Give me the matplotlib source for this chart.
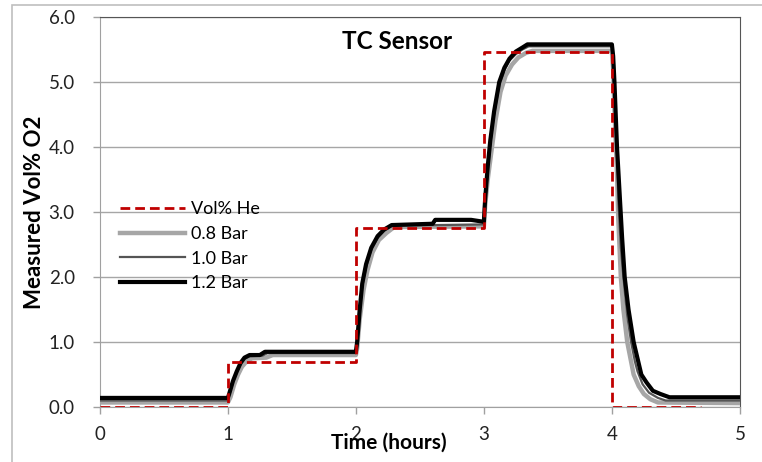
import matplotlib
matplotlib.use("Agg")
import matplotlib.pyplot as plt
from matplotlib.patches import Rectangle

plt.rcParams["font.family"] = ["Lato", "DejaVu Sans"]

# Vol% He set point (hours, vol%)
he_t = [0.0, 1.0, 1.0, 2.0, 2.0, 3.0, 3.0, 4.0, 4.0, 4.7]
he_v = [0.0, 0.0, 0.69, 0.69, 2.75, 2.75, 5.47, 5.47, 0.0, 0.0]

# 0.8 Bar
b08_t = [0.0, 1.0, 1.02, 1.05, 1.08, 1.11, 1.15, 1.19, 1.3, 1.35, 2.0,
         2.01, 2.03, 2.06, 2.09, 2.13, 2.18, 2.24, 2.30, 3.0,
         3.01, 3.03, 3.06, 3.09, 3.13, 3.17, 3.22, 3.27, 3.33, 3.38, 4.0,
         4.01, 4.02, 4.04, 4.05, 4.07, 4.09, 4.12, 4.15, 4.17, 4.21, 4.25, 4.30, 4.36, 5.0]
b08_v = [0.07, 0.07, 0.15, 0.35, 0.5, 0.62, 0.71, 0.75, 0.76, 0.80, 0.80,
         0.9, 1.35, 1.8, 2.1, 2.38, 2.57, 2.68, 2.77, 2.78,
         3.1, 3.5, 3.95, 4.4, 4.85, 5.1, 5.27, 5.38, 5.45, 5.48, 5.48,
         5.2, 4.6, 3.6, 2.9, 2.0, 1.5, 1.0, 0.7, 0.5, 0.32, 0.2, 0.12, 0.07, 0.06]

# 1.0 Bar
b10_t = [0.0, 1.0, 1.01, 1.04, 1.07, 1.10, 1.13, 1.17, 1.27, 1.31, 2.0,
         2.01, 2.03, 2.05, 2.08, 2.12, 2.17, 2.22, 2.28, 3.0,
         3.01, 3.03, 3.05, 3.08, 3.12, 3.16, 3.20, 3.25, 3.30, 3.35, 4.0,
         4.01, 4.02, 4.04, 4.05, 4.07, 4.09, 4.12, 4.15, 4.18, 4.20, 4.24, 4.29, 4.36, 4.42, 5.0]
b10_v = [0.10, 0.10, 0.18, 0.38, 0.53, 0.66, 0.74, 0.78, 0.79, 0.83, 0.83,
         0.95, 1.45, 1.85, 2.15, 2.42, 2.6, 2.71, 2.79, 2.81,
         3.15, 3.6, 4.05, 4.5, 4.95, 5.18, 5.33, 5.43, 5.5, 5.55, 5.55,
         5.35, 4.9, 3.9, 3.2, 2.45, 2.0, 1.4, 1.0, 0.7, 0.55, 0.35, 0.22, 0.14, 0.10, 0.10]

# 1.2 Bar
b12_t = [0.0, 1.0, 1.01, 1.04, 1.07, 1.10, 1.13, 1.17, 1.25, 1.29, 2.0,
         2.01, 2.03, 2.05, 2.08, 2.12, 2.17, 2.22, 2.28, 2.6, 2.62, 2.9, 3.0,
         3.01, 3.03, 3.05, 3.08, 3.12, 3.16, 3.20, 3.25, 3.30, 3.34, 4.0,
         4.01, 4.02, 4.04, 4.06, 4.08, 4.10, 4.13, 4.17, 4.20, 4.23, 4.27, 4.32, 4.38, 4.45, 5.0]
b12_v = [0.14, 0.14, 0.2, 0.4, 0.55, 0.68, 0.76, 0.80, 0.80, 0.85, 0.85,
         1.0, 1.5, 1.9, 2.2, 2.45, 2.63, 2.73, 2.8, 2.82, 2.88, 2.88, 2.85,
         3.2, 3.7, 4.1, 4.55, 5.0, 5.22, 5.36, 5.47, 5.53, 5.58, 5.58,
         5.4, 5.0, 4.0, 3.3, 2.6, 2.0, 1.5, 1.0, 0.75, 0.5, 0.38, 0.25, 0.2, 0.15, 0.15]

fig = plt.figure(figsize=(7.62, 4.62), dpi=100)
ax = fig.add_axes([0.131, 0.119, 0.840, 0.844])

fig.patches.append(Rectangle((0.016, -0.1), 1.1, 1.09, transform=fig.transFigure,
                             fill=False, edgecolor="#BFBFBF", lw=1.2))

ax.plot(he_t, he_v, c="#C00000", ls=(0, (3.5, 1.8)), lw=2, label="Vol% He", zorder=5)
ax.plot(b08_t, b08_v, c="#A6A6A6", lw=3.2, label="0.8 Bar", zorder=3)
ax.plot(b10_t, b10_v, c="#555555", lw=1.6, label="1.0 Bar", zorder=3)
ax.plot(b12_t, b12_v, c="black", lw=3.0, label="1.2 Bar", zorder=4)

ax.set_xlim(0, 5)
ax.set_ylim(0, 6)
ax.set_yticks([0, 1, 2, 3, 4, 5, 6])
ax.set_yticklabels(["0.0", "1.0", "2.0", "3.0", "4.0", "5.0", "6.0"])
ax.set_xticks([0, 1, 2, 3, 4, 5])
ax.tick_params(labelsize=13.5, length=5, width=1, colors="#A0A0A0", labelcolor="#222222")
ax.tick_params(axis="y", pad=13)
ax.tick_params(axis="x", pad=9)
ax.grid(axis="y", color="#A6A6A6", lw=1)
ax.set_axisbelow(True)
for s in ["left", "bottom"]:
    ax.spines[s].set_color("#A0A0A0")
for s in ["top", "right"]:
    ax.spines[s].set_color("#555555")

ax.text(2.32, 5.62, "TC Sensor", fontsize=17.5, fontweight="bold", ha="center", va="center")
ax.text(-0.102, 0.5, "Measured Vol% O2", fontsize=16, fontweight="bold", rotation=90,
        ha="center", va="center", transform=ax.transAxes)
ax.text(0.452, -0.092, "Time (hours)", fontsize=15, fontweight="bold",
        ha="center", va="center", transform=ax.transAxes)

ax.legend(loc="upper left", bbox_to_anchor=(0.012, 0.56), frameon=False, fontsize=13,
          handlelength=3.6, labelspacing=0.48, handletextpad=0.3, borderpad=0.2)

fig.savefig("out.png", dpi=100)
